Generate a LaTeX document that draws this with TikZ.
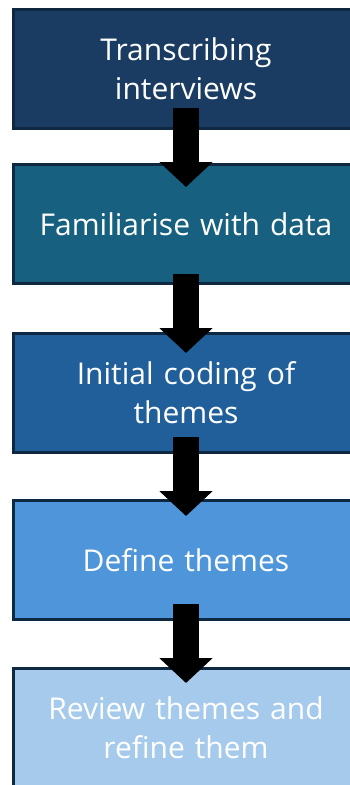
\documentclass[tikz,border=0pt]{standalone}
\usepackage{fontspec}
\setmainfont{Open Sans}
\usetikzlibrary{arrows.meta, positioning}
\definecolor{edge}{HTML}{0E2841}
\definecolor{stepone}{HTML}{1A3C62}
\definecolor{steptwo}{HTML}{176080}
\definecolor{stepthree}{HTML}{215F9A}
\definecolor{stepfour}{HTML}{4E95D9}
\definecolor{stepfive}{HTML}{A6CAEC}

\begin{document}
\begin{tikzpicture}[
    x=1pt, y=1pt,
    every node/.style={font=\fontsize{30}{39}\selectfont},
    stage/.style={
        rectangle,
        draw=edge,
        line width=3pt,
        text=white,
        text width=330pt,
        minimum width=345pt,
        minimum height=119pt,
        inner sep=0pt,
        align=center
    },
    flow/.style={line width=26pt, -{Triangle[width=52pt, length=25pt]}, color=black}
]
\useasboundingbox (0,0) rectangle (350,-785);
\clip (0,0) rectangle (350,-785);

\node[stage, fill=stepone, anchor=north west] (s1) at (12,-8) {Transcribing\\interviews};
\node[stage, fill=steptwo, below=33pt of s1] (s2) {Familiarise with data};
\node[stage, fill=stepthree, below=47pt of s2] (s3) {Initial coding of\\themes};
\node[stage, fill=stepfour, below=45pt of s3] (s4) {Define themes};
\node[stage, fill=stepfive, below=46pt of s4] (s5) {Review themes and\\refine them};

\draw[flow] ([yshift=22pt]s1.south) -- ([yshift=-24pt]s2.north);
\draw[flow] ([yshift=11pt]s2.south) -- ([yshift=-21pt]s3.north);
\draw[flow] ([yshift=17pt]s3.south) -- ([yshift=-17pt]s4.north);
\draw[flow] ([yshift=17pt]s4.south) -- ([yshift=-16pt]s5.north);

\end{tikzpicture}
\end{document}
